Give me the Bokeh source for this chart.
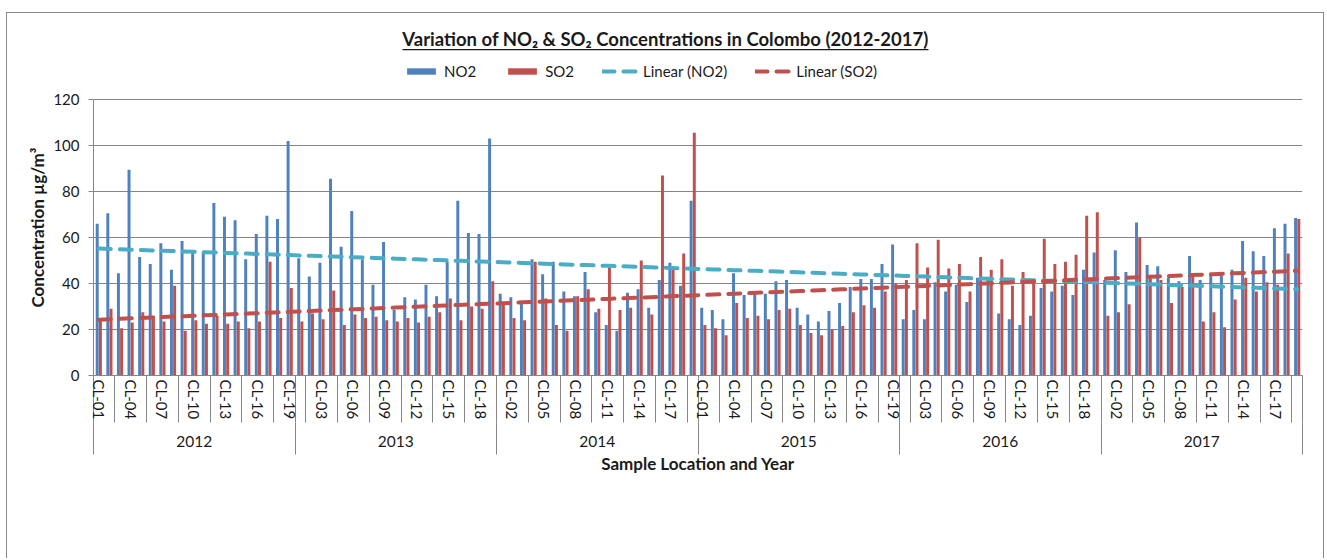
import numpy as np
from bokeh.plotting import figure
from bokeh.models import (Range1d, LinearAxis, FixedTicker, Legend, LegendItem,
                          Label, BoxAnnotation, Title)
from bokeh.embed import file_html
from bokeh.resources import INLINE

years = ["2012", "2013", "2014", "2015", "2016", "2017"]
locations = ["CL-%02d" % i for i in range(1, 20)]

no2_2012 = [66, 70.5, 44.5, 89.5, 51.5, 48.5, 57.5, 46, 58.5, 54, 53.5, 75, 69, 67.5, 50.5, 61.5, 69.5, 68, 102]
so2_2012 = [25, 29, 20.5, 23, 27.5, 26, 23.5, 39, 19.5, 24, 22.5, 26, 22.5, 23.5, 20.5, 23.5, 49.5, 25, 38]
no2_2013 = [51, 43, 49, 85.5, 56, 71.5, 50.5, 39.5, 58, 28.5, 34, 33, 39.5, 34.5, 49.5, 76, 62, 61.5, 103]
so2_2013 = [23.5, 27, 24.5, 37, 22, 26.5, 25, 25.5, 24, 23.5, 25, 23, 25.5, 27.5, 33.5, 24, 30, 29, 41]
no2_2014 = [35.5, 34, 31.5, 50.5, 44, 49.5, 36.5, 34.5, 45, 27.5, 22, 19.5, 36, 37.5, 29.5, 41.5, 49, 39, 76]
so2_2014 = [32, 25, 24, 49.5, 33.5, 22, 19.5, 34.5, 37.5, 29, 47, 28.5, 29.5, 50, 26.5, 87, 46, 53, 105.5]
no2_2015 = [29.5, 28.5, 24.5, 44.5, 35, 35.5, 35.5, 41, 41.5, 29.5, 26.5, 23.5, 28, 31.5, 38.5, 42, 42, 48.5, 57]
so2_2015 = [22, 20.5, 17.5, 31.5, 25, 26, 24.5, 28.5, 29, 22, 18.5, 17.5, 20, 21.5, 27.5, 30.5, 29.5, 36.5, 40]
no2_2016 = [24.5, 28.5, 24.5, 40.5, 36.5, 39.5, 32, 42.5, 41.5, 27, 24.5, 22, 26, 38, 36.5, 39, 35, 46, 53.5]
so2_2016 = [41.5, 57.5, 47, 59, 46.5, 48.5, 36.5, 51.5, 46, 50.5, 39, 45, 42, 59.5, 48.5, 49.5, 52.5, 69.5, 71]
no2_2017 = [41.5, 54.5, 45, 66.5, 48, 47.5, 42.5, 41, 52, 41.5, 44, 44, 46, 58.5, 54, 52, 64, 66, 68.5]
so2_2017 = [26, 27.5, 31, 60, 42.5, 41.5, 31.5, 38.5, 43, 23.5, 27.5, 21, 33, 42.5, 36.5, 40.5, 39.5, 53, 68]

y_ticks = [0, 20, 40, 60, 80, 100, 120]

no2 = no2_2012 + no2_2013 + no2_2014 + no2_2015 + no2_2016 + no2_2017
so2 = so2_2012 + so2_2013 + so2_2014 + so2_2015 + so2_2016 + so2_2017
labels = [loc for y in years for loc in locations]
n = len(no2)
idx = np.arange(n)

# linear trend lines (least squares, like Excel's "Linear" trendline)
c_no2 = np.polyfit(idx + 1, no2, 1)
c_so2 = np.polyfit(idx + 1, so2, 1)
trend_no2 = np.polyval(c_no2, idx + 1)
trend_so2 = np.polyval(c_so2, idx + 1)

BLUE = "#4F81BD"
RED = "#C0504D"
CYAN = "#4BACC6"
GRID = "#868686"
TXT = "#1a1a1a"
FONT = "Lato"

# canvas placed at page (7, 13) by the CSS margin + border below
W, H = 1318, 546
ML, MT, FW, FH = 86, 0, 1209, 362
PX_PER_UNIT = 2.3
y_top = FH / PX_PER_UNIT
x_lo, x_hi = -0.5, n - 0.5
ppx = FW / n  # pixels per category


def dx(page_x):
    return x_lo + (page_x - 93) / ppx


def dy(page_y):
    return (375 - page_y) / PX_PER_UNIT


p = figure(width=W, height=H, output_backend="svg", toolbar_location=None,
           x_range=Range1d(x_lo, x_hi), y_range=Range1d(0, y_top),
           x_axis_location=None, min_border_left=ML, min_border_top=MT,
           min_border_right=W - ML - FW, min_border_bottom=H - MT - FH)
p.outline_line_color = None
p.background_fill_color = "white"
p.border_fill_color = "white"
p.xgrid.visible = False
p.styles = {"margin-left": "6px", "margin-top": "12px",
            "border-left": "1px solid #898989", "border-top": "1px solid #898989",
            "border-right": "1px solid #898989"}

bw = 0.28
r_no2 = p.vbar(x=idx - 0.15, top=no2, width=bw, fill_color=BLUE, line_color=None)
r_so2 = p.vbar(x=idx + 0.15, top=so2, width=bw, fill_color=RED, line_color=None)
r_tn = p.line(idx, trend_no2, line_color=CYAN, line_width=4, line_dash="12 9", line_cap="round")
r_ts = p.line(idx, trend_so2, line_color=RED, line_width=4, line_dash="12 9", line_cap="round")

# y axis
ya = p.yaxis[0]
ya.ticker = FixedTicker(ticks=y_ticks)
ya.bounds = (0, 120)
ya.axis_line_color = GRID
ya.major_tick_line_color = GRID
ya.major_tick_out = 5
ya.major_tick_in = 0
ya.minor_tick_line_color = None
ya.major_label_text_font = FONT
ya.major_label_text_font_size = "15px"
ya.major_label_text_color = TXT
ya.major_label_standoff = 9
p.ygrid.ticker = FixedTicker(ticks=y_ticks)
p.ygrid.grid_line_color = GRID
p.ygrid.grid_line_width = 1

# y axis title, aligned on the 0-120 part of the axis
p.add_layout(Title(text="Concentration  µg/m³", align="left", offset=68, standoff=6,
                   text_font=FONT, text_font_size="17px", text_font_style="bold",
                   text_color=TXT), "left")

# x axis level 1: location labels (every third) and separators
lab_pos = list(range(0, n, 3))
sep_pos = sorted(set([b - 0.5 for b in range(2, n + 1, 3)] + [19 * k - 0.5 for k in range(7)]))
xa = LinearAxis(ticker=FixedTicker(ticks=lab_pos, minor_ticks=sep_pos),
                major_label_overrides={i: labels[i] for i in lab_pos})
xa.major_label_orientation = "vertical"
xa.major_tick_out = 0
xa.major_tick_in = 0
xa.major_tick_line_color = None
xa.minor_tick_out = 47
xa.minor_tick_in = 0
xa.minor_tick_line_color = GRID
xa.axis_line_color = GRID
xa.major_label_text_font = FONT
xa.major_label_text_font_size = "15px"
xa.major_label_text_color = TXT
xa.major_label_standoff = -43
p.add_layout(xa, "below")

# x axis level 2: years
yr_pos = [19 * k + 9 for k in range(6)]
yr_bounds = [19 * k - 0.5 for k in range(7)]
xb = LinearAxis(ticker=FixedTicker(ticks=yr_pos, minor_ticks=yr_bounds),
                major_label_overrides={yr_pos[k]: years[k] for k in range(6)})
xb.axis_line_color = None
xb.major_tick_out = 0
xb.major_tick_in = 0
xb.major_tick_line_color = None
xb.minor_tick_out = 32
xb.minor_tick_in = 0
xb.minor_tick_line_color = GRID
xb.major_label_text_font = FONT
xb.major_label_text_font_size = "15.5px"
xb.major_label_text_color = TXT
xb.major_label_standoff = -19
xb.axis_label = "Sample Location and Year"
xb.axis_label_text_font = FONT
xb.axis_label_text_font_size = "17px"
xb.axis_label_text_font_style = "bold"
xb.axis_label_text_color = TXT
xb.axis_label_standoff = 3
p.add_layout(xb, "below")

# legend (inside the tall frame, above the 0-120 plot area)
legend = Legend(items=[LegendItem(label="NO2", renderers=[r_no2]),
                       LegendItem(label="SO2", renderers=[r_so2]),
                       LegendItem(label="Linear (NO2)", renderers=[r_tn]),
                       LegendItem(label="Linear (SO2)", renderers=[r_ts])],
                orientation="horizontal", location=(310, 295),
                glyph_width=36, glyph_height=8, label_height=16, label_standoff=5,
                spacing=28, padding=0, margin=0, border_line_color=None,
                background_fill_alpha=0,
                label_text_font=FONT, label_text_font_size="15px", label_text_color=TXT)
p.add_layout(legend, "center")

# title with underline
title = Label(x=dx(665), y=dy(38),
              text="Variation of NO₂ & SO₂ Concentrations in Colombo (2012-2017)",
              text_align="center", text_baseline="middle", text_font=FONT,
              text_font_size="18.5px", text_font_style="bold", text_color=TXT)
p.add_layout(title)
p.add_layout(BoxAnnotation(left=dx(402), right=dx(928), bottom=dy(49.8), top=dy(48.4),
                           fill_color=TXT, fill_alpha=1, line_color=None))

open("out.html", "w").write(file_html(p, INLINE))
